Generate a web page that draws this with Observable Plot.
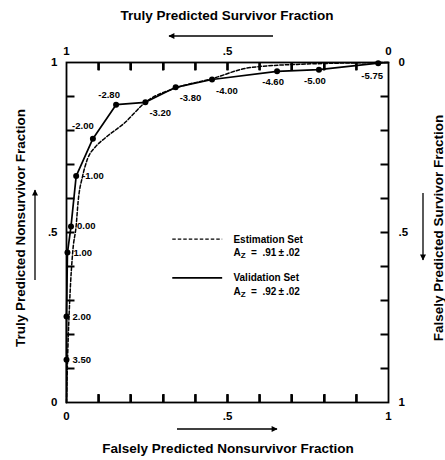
<!DOCTYPE html>
<html>
<head>
<meta charset="utf-8">
<script src="https://cdn.jsdelivr.net/npm/d3@7"></script>
<script src="https://cdn.jsdelivr.net/npm/@observablehq/plot@0.6"></script>
<style>
  html, body { margin: 0; padding: 0; background: #fff; }
  svg { font-family: "Liberation Sans", Arial, Helvetica, sans-serif; font-weight: bold; }
</style>
</head>
<body>
<div id="chart"></div>
<script>
// ---- data ----
const thresholdLabels = ["3.50","2.00","1.00","0.00","-1.00","-2.00","-2.80","-3.20","-3.80","-4.00","-4.60","-5.00","-5.75"];
const validationFPR   = [0.000, 0.000, 0.003, 0.014, 0.030, 0.082, 0.154, 0.245, 0.339, 0.452, 0.654, 0.784, 0.968];
const validationTPR   = [0.126, 0.253, 0.441, 0.518, 0.666, 0.776, 0.876, 0.883, 0.927, 0.950, 0.974, 0.979, 0.998];
// label placement code relative to point: r = right, ul = upper-left, u = above, br = below-right, b = below, bl = below-left
const labelPlacement  = ["r","r","r","r","r","ul","u","br","br","br","b","b","bl"];
// curve end points (no markers)
const validationStart = [0, 0];
const validationEnd   = [1, 1];

const estimationFPR = [0.000, 0.004, 0.010, 0.020, 0.030, 0.036, 0.050, 0.066, 0.090, 0.120, 0.180, 0.245, 0.340, 0.450, 0.570, 0.730, 1.000];
const estimationTPR = [0.000, 0.150, 0.300, 0.450, 0.520, 0.590, 0.666, 0.718, 0.752, 0.778, 0.822, 0.883, 0.925, 0.952, 0.985, 0.995, 1.000];

const majorTicks = [0, 0.5, 1];
const minorTicks = [0.1, 0.2, 0.3, 0.4, 0.5, 0.6, 0.7, 0.8, 0.9];

const titleBottom = "Falsely Predicted Nonsurvivor Fraction";
const titleTop    = "Truly Predicted Survivor Fraction";
const titleLeft   = "Truly Predicted Nonsurvivor Fraction";
const titleRight  = "Falsely Predicted Survivor Fraction";

const legendSeries = ["Estimation Set", "Validation Set"];
const legendAz     = [".91", ".92"];
const legendErr    = [".02", ".02"];

// ---- build ----
const fmt = d => d === 0.5 ? ".5" : String(d);
const fmtRev = d => fmt(+(1 - d).toFixed(2));

const validation = [
  {x: validationStart[0], y: validationStart[1]},
  ...validationTPR.map((y, i) => ({x: validationFPR[i], y})),
  {x: validationEnd[0], y: validationEnd[1]}
];
const valPoints = thresholdLabels.map((t, i) => ({x: validationFPR[i], y: validationTPR[i], label: t, pl: labelPlacement[i]}));
const estimation = estimationFPR.map((x, i) => ({x, y: estimationTPR[i]}));

const off = {r: [6, 0, "start"], ul: [-10, -13, "middle"], u: [-7, -10, "middle"], br: [4, 11, "start"], b: [-4, 11, "middle"], bl: [-6, 13, "middle"]};

const W = 445, H = 460;
const mL = 66, mR = 57, mT = 62, mB = 58;
const tickFont = 11.5;
const TL = 8;
const plotW = W - mL - mR, plotH = H - mT - mB;
const tLx = TL / plotW, tLy = TL / plotH;  // inward tick length in data units

const plot = Plot.plot({
  width: W, height: H,
  marginLeft: mL, marginRight: mR, marginTop: mT, marginBottom: mB,
  style: {fontFamily: '"Liberation Sans", Arial, sans-serif', fontWeight: "bold", fontSize: "11px", color: "#000", background: "#fff"},
  x: {domain: [0, 1]},
  y: {domain: [0, 1]},
  marks: [
    // inward minor ticks, left and right
    Plot.link(minorTicks, {y1: d => d, y2: d => d, x1: 0, x2: tLx, stroke: "#000", strokeWidth: 2}),
    Plot.link(minorTicks, {y1: d => d, y2: d => d, x1: 1 - tLx, x2: 1, stroke: "#000", strokeWidth: 2}),
    // inward minor ticks, bottom and top (slightly slanted links so they are never zero-width)
    Plot.link(minorTicks, {x1: d => d, x2: d => d + 1e-6, y1: 0, y2: tLy, stroke: "#000", strokeWidth: 2.2}),
    Plot.link(minorTicks, {x1: d => d, x2: d => d + 1e-6, y1: 1 - tLy, y2: 1, stroke: "#000", strokeWidth: 2.2}),
    Plot.frame({stroke: "#000", strokeWidth: 1.8}),
    // major labels
    Plot.axisX(majorTicks, {anchor: "bottom", tickSize: 0, tickPadding: 9, tickFormat: fmt, label: null, fontSize: tickFont}),
    Plot.axisX(majorTicks, {anchor: "top", tickSize: 0, tickPadding: 8, tickFormat: fmtRev, label: null, fontSize: tickFont}),
    Plot.axisY(majorTicks, {anchor: "left", tickSize: 0, tickPadding: 9, tickFormat: fmt, label: null, fontSize: tickFont}),
    Plot.axisY(majorTicks, {anchor: "right", tickSize: 0, tickPadding: 10, tickFormat: fmtRev, label: null, fontSize: tickFont}),
    // curves
    Plot.line(estimation, {x: "x", y: "y", stroke: "#000", strokeWidth: 1.5, strokeDasharray: "3.5,2", curve: "monotone-x"}),
    Plot.line(validation, {x: "x", y: "y", stroke: "#000", strokeWidth: 1.7}),
    Plot.dot(valPoints, {x: "x", y: "y", r: 3, fill: "#000"}),
    ...Object.keys(off).map(k => Plot.text(valPoints.filter(d => d.pl === k), {
      x: "x", y: "y", text: "label", dx: off[k][0], dy: off[k][1], textAnchor: off[k][2],
      fontSize: 9.5, fontWeight: "bold", fill: "#000"
    }))
  ]
});

document.getElementById("chart").appendChild(plot);

// ---- annotations: extra top/bottom tick paths, axis titles, arrows, legend ----
const svg = d3.select(plot);
const sx = plot.scale("x"), sy = plot.scale("y");
const x0 = sx.apply(0), x1 = sx.apply(1), y0 = sy.apply(0), y1 = sy.apply(1);
const cx = (x0 + x1) / 2, cy = (y0 + y1) / 2;

const tickPath = minorTicks.map(t => {
  const px = Math.round(sx.apply(t)) + 0.5;
  return `M${px},${y0}V${y0 - TL}M${px},${y1}V${y1 + TL}`;
}).join("");
svg.append("path").attr("d", tickPath).attr("stroke", "#000").attr("stroke-width", 2.2).attr("fill", "none");

const defs = svg.append("defs");
defs.append("marker").attr("id", "ah").attr("viewBox", "0 0 10 10").attr("refX", 9).attr("refY", 5)
  .attr("markerWidth", 9).attr("markerHeight", 6).attr("orient", "auto-start-reverse").attr("markerUnits", "userSpaceOnUse")
  .append("path").attr("d", "M0,0L10,5L0,10z").attr("fill", "#000");

const g = svg.append("g").attr("font-weight", "bold").attr("fill", "#000").attr("text-anchor", "middle");
const titleSize = 13.5;
g.append("text").attr("x", cx).attr("y", 20).attr("font-size", titleSize).text(titleTop);
g.append("text").attr("x", cx + 1).attr("y", H - 7).attr("font-size", titleSize).text(titleBottom);
g.append("text").attr("transform", `translate(25,${cy - 4}) rotate(-90)`).attr("font-size", titleSize).text(titleLeft);
g.append("text").attr("transform", `translate(443,${cy - 4}) rotate(-90)`).attr("font-size", titleSize).text(titleRight);

const arrow = (xa, ya, xb, yb) => svg.append("line").attr("x1", xa).attr("y1", ya).attr("x2", xb).attr("y2", yb)
  .attr("stroke", "#000").attr("stroke-width", 1.3).attr("marker-end", "url(#ah)");
arrow(cx + 46, 36, cx - 58, 36);          // top: pointing left
arrow(cx - 50, 429, cx + 50, 429);        // bottom: pointing right
arrow(35, cy + 48, 35, cy - 42);          // left: pointing up
arrow(423, cy - 39, 423, cy + 28);        // right: pointing down

// legend (positioned in data space inside the frame)
const lx0 = sx.apply(0.33), lx1 = sx.apply(0.485), tx = sx.apply(0.52);
const ly = [sy.apply(0.479), sy.apply(0.365)];
const leg = svg.append("g").attr("font-weight", "bold").attr("font-size", 10).attr("text-anchor", "start");
legendSeries.forEach((name, i) => {
  leg.append("line").attr("x1", lx0).attr("x2", lx1).attr("y1", ly[i]).attr("y2", ly[i])
    .attr("stroke", "#000").attr("stroke-width", i === 0 ? 1.4 : 1.6).attr("stroke-dasharray", i === 0 ? "3.5,2" : null);
  leg.append("text").attr("x", tx).attr("y", ly[i] + 3.5).text(name);
  const t = leg.append("text").attr("x", tx).attr("y", ly[i] + 17).attr("xml:space", "preserve");
  t.append("tspan").text("A");
  t.append("tspan").attr("font-size", 8).attr("dy", 2).text("Z");
  t.append("tspan").attr("dy", -2).text(`  =  ${legendAz[i]}\u2009\u00b1\u2009${legendErr[i]}`);
});
</script>
</body>
</html>
